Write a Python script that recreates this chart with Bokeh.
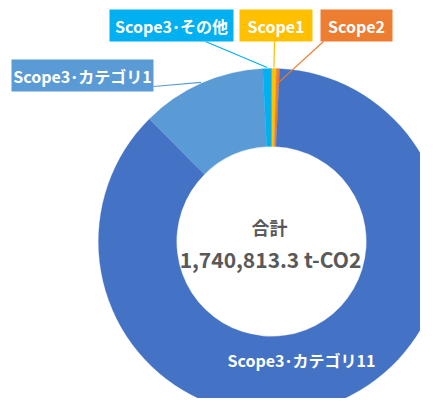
import math
from bokeh.plotting import figure
from bokeh.models import Range1d, ColumnDataSource
from bokeh.core.properties import value
from bokeh.embed import file_html
from bokeh.resources import INLINE

# ---- data ----
categories = ["Scope1", "Scope2", "Scope3･カテゴリ11", "Scope3･カテゴリ1", "Scope3･その他"]
values = [7800.0, 5200.0, 1510813.3, 203000.0, 14000.0]
colors = ["#FFC000", "#ED7D31", "#4472C4", "#5B9BD5", "#00B0F0"]
total_title = "合計"
unit = "t-CO2"

FONT = value("Noto Sans CJK JP")
total = sum(values)

# geometry (1 data unit == 1 px, donut centre at origin)
R_IN, R_OUT = 95, 173

p = figure(width=420, height=398, output_backend="svg", toolbar_location=None,
           x_range=Range1d(-271, 149), y_range=Range1d(-157, 241),
           min_border=0)
p.axis.visible = False
p.grid.visible = False
p.outline_line_color = None
p.background_fill_color = "white"

# wedge angles: clockwise from 12 o'clock
starts, ends, mids = [], [], []
acc = 0.0
for v in values:
    a0 = acc / total * 2 * math.pi
    acc += v
    a1 = acc / total * 2 * math.pi
    starts.append(math.pi / 2 - a0)
    ends.append(math.pi / 2 - a1)
    mids.append((a0 + a1) / 2)

src = ColumnDataSource(dict(start=starts, end=ends, color=colors, cat=categories))
p.annular_wedge(x=0, y=0, inner_radius=R_IN, outer_radius=R_OUT,
                start_angle="start", end_angle="end", direction="clock",
                fill_color="color", line_color="color", line_width=0.3, source=src)

def polar(theta, r):
    return r * math.sin(theta), r * math.cos(theta)

# labels with boxes: (index, box centre x, box centre y, width, leader start, leader radius)
boxes = [
    (4, -100, 216, 124, (-66, 200), 174),
    (0, 4.5, 216, 73, (3, 200), 174),
    (1, 85, 216, 72, (52, 200), 158),
    (3, -189, 166, 142, (-118, 155), 174),
]
for idx, bx, by, bw, (lx, ly), lr in boxes:
    ex, ey = polar(mids[idx], lr)
    p.segment(x0=lx, y0=ly, x1=ex, y1=ey, line_color=colors[idx], line_width=1.2)
    p.rect(x=bx, y=by, width=bw, height=32, fill_color=colors[idx], line_color=None)
    p.text(x=[bx], y=[by], text=[categories[idx]], text_color="white",
           text_font=FONT, text_font_style="bold", text_font_size="16px",
           text_align="center", text_baseline="middle")

# in-slice label for the largest slice
p.text(x=[30], y=[-118], text=[categories[2]], text_color="white",
       text_font=FONT, text_font_style="bold", text_font_size="16px",
       text_align="center", text_baseline="middle")

# centre texts
p.text(x=[-2], y=[15], text=[total_title], text_color="#595959",
       text_font=FONT, text_font_style="bold", text_font_size="18px",
       text_align="center", text_baseline="middle")
p.text(x=[-1], y=[-17], text=[f"{total:,.1f} {unit}"], text_color="#595959",
       text_font=FONT, text_font_style="bold", text_font_size="21px",
       text_align="center", text_baseline="middle")

open("out.html", "w").write(file_html(p, INLINE))
